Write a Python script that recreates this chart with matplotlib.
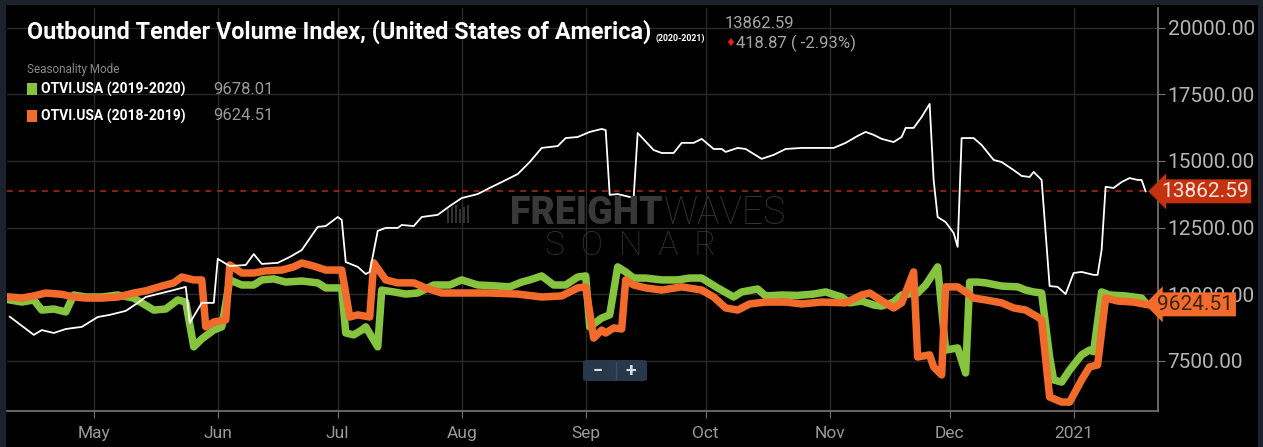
import matplotlib.pyplot as plt
import matplotlib.dates as mdates
import numpy as np
from matplotlib.patches import Rectangle, FancyBboxPatch

plt.rcParams['font.family'] = ['Roboto', 'DejaVu Sans']

BASE = np.datetime64('2020-05-01')

# OTVI.USA 2020-2021 (days after 2020-05-01, index)
white_days = [-21, -15, -13, -10, -7, -3, 1, 4, 8, 11, 13, 17, 20, 23, 24, 27, 30,
              31, 34, 38, 40, 42, 46, 49, 52, 56, 58, 61, 62, 63, 66, 68, 69, 71,
              73, 76, 77, 80, 82, 86, 89, 92, 96, 99, 102, 106, 109, 112, 116, 118,
              121, 124, 127, 128, 129, 131, 134, 135, 136, 140, 142, 145, 147, 150,
              152, 155, 157, 158, 161, 163, 167, 170, 173, 177, 185, 188, 191, 193,
              195, 197, 200, 202, 203, 205, 207, 209, 210, 211, 213, 215, 216, 217,
              220, 222, 225, 227, 230, 232, 234, 235, 237, 239, 241, 243, 245, 247,
              250, 251, 252, 253, 255, 257, 259, 261, 262, 263]
white_vals = [9160, 8480, 8660, 8550, 8700, 8780, 9150, 9230, 9380, 9680, 9900, 10050,
              10160, 10280, 8930, 9680, 9680,
              11330, 11060, 11100, 11510, 11140, 11180, 11400, 11660, 12530, 12560,
              12900, 12790, 11210, 11030, 10760, 10840, 12380,
              12490, 12490, 12600, 12560, 12900, 12980, 13310, 13610, 13760, 13990,
              14210, 14510, 14960, 15490, 15560, 15860,
              15900, 16090, 16200, 16160, 13730, 13760, 13650, 13650, 16050, 15410,
              15300, 15300, 15680, 15680,
              15830, 15450, 15450, 15340, 15490, 15450, 15080, 15230, 15450, 15490,
              15490, 15680, 15940, 16090,
              15980, 15830, 15710, 15900, 16240, 16240, 16650, 17140, 14290, 12900,
              12710, 12300, 11780, 15860,
              15860, 15600, 15040, 14960, 14660, 14440, 14400, 14590, 14290, 10310,
              10280, 10010, 10800, 10840,
              10730, 10730, 11660, 14030, 13990, 14210, 14360, 14290, 14290, 13862.59]

# OTVI.USA 2019-2020 (seasonality aligned)
green_days = [-21, -18, -15, -13, -10, -7, -5, -2, 2, 6, 10, 12, 15, 18, 21, 23, 25,
              27, 30, 32, 34, 37, 40, 42, 45, 48, 52, 56, 58, 62, 63, 65, 67, 68, 71,
              72, 75, 78, 81, 85, 89, 92, 96, 99, 104, 107, 109, 112, 115, 118, 121,
              123, 124, 127, 129, 131, 133, 135, 138, 142, 146, 149, 152, 156, 160,
              162, 166, 168, 172, 176, 180, 183, 187, 189, 192, 195, 197, 200, 202,
              206, 208, 211, 213, 216, 218, 219, 221, 223, 227, 231, 233, 235, 237,
              239, 240, 242, 244, 247, 249, 250, 252, 254, 258, 262, 263]
green_vals = [9790, 9710, 9790, 9410, 9450, 9340, 9975, 9900, 9900, 9975, 9860, 9680,
              9410, 9450, 9790, 9710, 8030,
              8330, 8660, 8780, 10540, 10350, 10350, 10540, 10580, 10460, 10500, 10430,
              10240, 10240, 8550, 8480, 8660, 8780, 8030,
              10160, 10090, 10010, 10050, 10350, 10350, 10540, 10350, 10330, 10280,
              10460, 10540, 10690, 10350, 10350, 10650,
              10690, 8780, 9110, 9230, 11030, 10840, 10610, 10610, 10540, 10540, 10610,
              10610, 10240, 9900,
              10090, 10200, 9940, 9975, 9960, 10010, 10090, 9900, 9680, 9750, 9600,
              9560, 9710, 9975,
              10050, 10350, 11030, 7910, 7990, 7050, 10460, 10460, 10430, 10310, 10280,
              10160, 10090, 10050,
              7650, 6790, 6710, 7160, 7730, 7910, 7850, 10090, 9975, 9940, 9860, 9678.01]

# OTVI.USA 2018-2019 (seasonality aligned)
orange_days = [-21, -18, -15, -12, -8, -5, -2, 2, 6, 10, 13, 17, 20, 22, 25, 27, 28,
               30, 33, 34, 37, 40, 43, 47, 50, 52, 55, 58, 62, 64, 66, 69, 70, 73, 76,
               80, 83, 87, 92, 99, 106, 112, 117, 121, 123, 125, 127, 128, 130, 132,
               133, 135, 138, 142, 147, 152, 155, 158, 161, 164, 168, 173, 177, 182,
               188, 192, 194, 197, 200, 202, 205, 206, 209, 210, 212, 213, 216, 218,
               220, 223, 227, 230, 233, 236, 237, 239, 242, 244, 247, 249, 251, 253,
               256, 260, 263]
orange_vals = [9900, 9860, 9940, 10050, 10000, 9900, 9860, 9860, 9900, 10050, 10130,
               10310, 10430, 10650, 10540, 10540, 8780,
               8960, 9040, 11100, 10800, 10800, 10880, 10910, 11030, 11175, 11060, 10910,
               10910, 9150, 9230, 9150, 11180, 10540, 10430,
               10430, 10240, 10050, 10050, 10050, 10010, 9900, 9940, 10240, 10280, 8360,
               8660, 8550, 8740, 8700,
               10540, 10350, 10240, 10160, 10280, 10160, 9900, 9490, 9410, 9640, 9710,
               9710, 9640, 9710,
               9680, 9975, 10050, 9760, 9490, 9680, 10840, 7650, 7730, 7280, 6980, 10280,
               10280, 10090,
               9860, 9790, 9680, 9490, 9410, 9150, 9040, 6150, 5960, 5960, 6790, 7280,
               7350, 9860,
               9750, 9710, 9624.51]

month_days = [0, 31, 61, 92, 123, 153, 184, 214, 245]
month_labels = ['May', 'Jun', 'Jul', 'Aug', 'Sep', 'Oct', 'Nov', 'Dec', '2021']
y_ticks = [7500, 10000, 12500, 15000, 17500, 20000]

last_white = white_vals[-1]
change = 418.87
change_pct = -2.93


def to_dates(days):
    return BASE + np.array(days).astype('timedelta64[D]')


fig = plt.figure(figsize=(12.63, 4.47), dpi=100)
fig.patch.set_facecolor('#1b222b')
fig.add_artist(Rectangle((6 / 1263, 0), 1252 / 1263, 442 / 447, transform=fig.transFigure,
                         facecolor='black', edgecolor='none', zorder=0))

ax = fig.add_axes([7 / 1263, 36 / 447, 1151 / 1263, 403 / 447])
ax.set_facecolor('black')

ax.plot(to_dates(green_days), green_vals, color='#86c440', lw=5.4, zorder=3)
ax.plot(to_dates(orange_days), orange_vals, color='#f26b2b', lw=5.4, zorder=4)
ax.plot(to_dates(white_days), white_vals, color='white', lw=1.3, zorder=5)
ax.axhline(last_white, color='#a8280f', lw=1.2, ls=(0, (3.5, 3.5)), zorder=2)

x0 = mdates.date2num(BASE)
ax.set_xlim(x0 - 21.7, x0 + 266.1)
ax.set_ylim(5625, 20737)

ax.set_xticks(to_dates(month_days))
ax.set_xticklabels(month_labels)
ax.set_yticks(y_ticks)
ax.set_yticklabels(['%.2f' % v for v in y_ticks])
ax.yaxis.tick_right()
ax.tick_params(axis='y', length=5, color='#777777', labelsize=15, labelcolor='#b5b5b5', pad=2)
ax.tick_params(axis='x', length=5, color='#777777', labelsize=12.5, labelcolor='#9a9a9a', pad=6)
ax.grid(True, color='#2a2a2a', lw=1)
ax.set_axisbelow(True)
for s in ['left', 'top']:
    ax.spines[s].set_visible(False)
for s in ['right', 'bottom']:
    ax.spines[s].set_color('#777777')
    ax.spines[s].set_linewidth(1.2)

# price tags on the right
ax.text(1.0025, last_white, '%.2f' % last_white, transform=ax.get_yaxis_transform(),
        ha='left', va='center', fontsize=15, color='#f5e6df', zorder=10, clip_on=False,
        bbox=dict(boxstyle='larrow,pad=0.12', fc='#c3310f', ec='none'))
ax.text(0.9995, orange_vals[-1], '%.2f' % orange_vals[-1], transform=ax.get_yaxis_transform(),
        ha='left', va='center', fontsize=15, color='#3a2418', zorder=10, clip_on=False,
        bbox=dict(boxstyle='larrow,pad=0.12', fc='#f26b2b', ec='none'))

# watermark
for i in range(6):
    fig.add_artist(Rectangle(((447 + i * 4) / 1263, (447 - 223) / 447), 2 / 1263,
                             (14 + (i % 3) * 2) / 447, transform=fig.transFigure,
                             fc='#333333', ec='none'))
fig.text(663 / 1263, 1 - 213 / 447, 'FREIGHT', color='#383838', fontsize=27, fontweight='black',
         ha='right', va='center')
fig.text(664 / 1263, 1 - 213 / 447, 'WAVES', color='#333333', fontsize=27, fontweight='light',
         ha='left', va='center')
fig.text(631 / 1263, 1 - 246 / 447, 'S  O  N  A  R', color='#333333', fontsize=24,
         fontweight='light', ha='center', va='center')

# zoom control
fig.add_artist(FancyBboxPatch((583 / 1263, 66 / 447), 64 / 1263, 21 / 447,
                              boxstyle='round,pad=0,rounding_size=0.004',
                              transform=fig.transFigure, fc='#26384a', ec='none'))
fig.text(598 / 1263, 76 / 447, '\u2212', color='#d8dde3', fontsize=13, ha='center', va='center',
         fontweight='bold')
fig.text(631 / 1263, 76 / 447, '+', color='#d8dde3', fontsize=14, ha='center', va='center',
         fontweight='bold')
fig.add_artist(plt.Line2D([616 / 1263, 616 / 1263], [68 / 447, 85 / 447],
                          transform=fig.transFigure, color='#3c5064', lw=1))

# title and legend
fig.text(27 / 1263, 1 - 32 / 447, 'Outbound Tender Volume Index, (United States of America)',
         color='white', fontsize=16.8, fontweight='bold', ha='left', va='center')
fig.text(655 / 1263, 1 - 38 / 447, '(2020-2021)', color='white', fontsize=6.3,
         fontweight='bold', ha='left', va='center')
fig.text(725 / 1263, 1 - 24 / 447, '%.2f' % last_white, color='#a5a5a5', fontsize=12,
         ha='left', va='center')
fig.text(725 / 1263, 1 - 43 / 447, '\u2666', color='#e0201a', fontsize=8,
         ha='left', va='center', family='DejaVu Sans')
fig.text(736 / 1263, 1 - 43 / 447, '%.2f ( %.2f%%)' % (change, change_pct), color='#a5a5a5',
         fontsize=12, ha='left', va='center')

fig.text(27 / 1263, 1 - 70 / 447, 'Seasonality Mode', color='#8a8a8a', fontsize=8.5,
         ha='left', va='center')
for yy, col, lab, val in [(89, '#86c440', 'OTVI.USA (2019-2020)', green_vals[-1]),
                          (116, '#f26b2b', 'OTVI.USA (2018-2019)', orange_vals[-1])]:
    fig.add_artist(Rectangle((27 / 1263, 1 - (yy + 6) / 447), 10 / 1263, 12 / 447,
                             transform=fig.transFigure, fc=col, ec='none'))
    fig.text(41 / 1263, 1 - yy / 447, lab, color='white', fontsize=10, fontweight='bold',
             ha='left', va='center')
    fig.text(213 / 1263, 1 - yy / 447, '%.2f' % val, color='#9a9a9a', fontsize=12,
             ha='left', va='center')

fig.savefig('out.png', dpi=100, facecolor=fig.get_facecolor())
